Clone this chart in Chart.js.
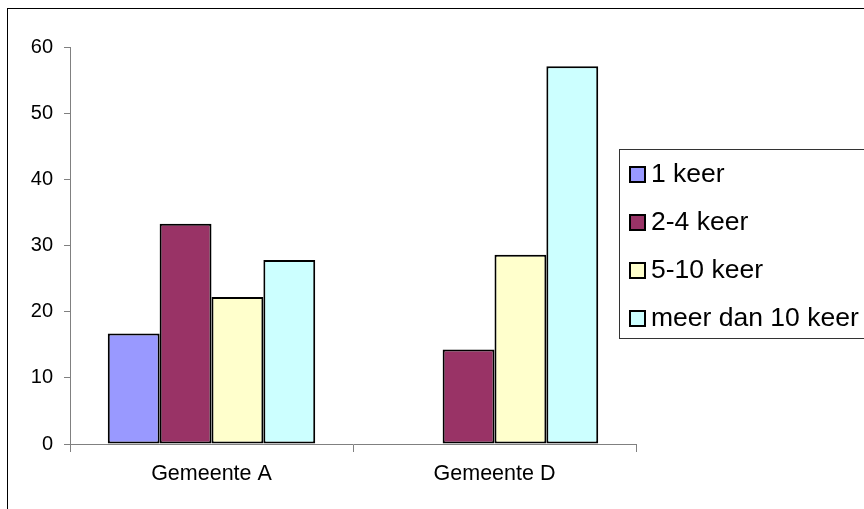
<!DOCTYPE html>
<html>
<head>
<meta charset="utf-8">
<script src="https://cdn.jsdelivr.net/npm/chart.js@4.4.1/dist/chart.umd.min.js"></script>
<style>
  html, body { margin: 0; padding: 0; background: #fff; }
  #wrap { width: 864px; height: 509px; }
</style>
</head>
<body>
<div id="wrap"><canvas id="chart" width="864" height="509"></canvas></div>
<script>
const categories = ['Gemeente A', 'Gemeente D'];
const seriesNames = ['1 keer', '2-4 keer', '5-10 keer', 'meer dan 10 keer'];
const eenKeer = [16.7, 0];
const tweeTotVier = [33.3, 14.3];
const vijfTotTien = [22.2, 28.6];
const meerDanTien = [27.8, 57.1];
const yTicks = [0, 10, 20, 30, 40, 50, 60];

const colors = ['#9999FF', '#993366', '#FFFFCC', '#CCFFFF'];
const fontFamily = "'Liberation Sans', Arial, sans-serif";

// excel-achtige legenda met kader, rechts over de plot heen
const boxLegend = {
    id: 'boxLegend',
    afterDraw(chart) {
        const ctx = chart.ctx;
        ctx.save();
        // buitenrand van de grafiek
        ctx.strokeStyle = '#000';
        ctx.lineWidth = 1;
        ctx.strokeRect(7.5, 8.5, 900, 600);

        ctx.fillStyle = '#fff';
        ctx.fillRect(619, 149, 260, 190);
        ctx.strokeStyle = '#333';
        ctx.strokeRect(619.5, 149.5, 260, 189);

        ctx.font = '26.5px ' + fontFamily;
        ctx.textBaseline = 'middle';
        chart.data.datasets.forEach((ds, i) => {
            const cy = 174 + i * 48;
            ctx.fillStyle = ds.backgroundColor;
            ctx.fillRect(629, cy - 8, 17, 17);
            ctx.strokeStyle = '#000';
            ctx.lineWidth = 2;
            ctx.strokeRect(630, cy - 7, 15, 15);
            ctx.fillStyle = '#000';
            ctx.fillText(ds.label, 651, cy + 1);
        });
        ctx.restore();
    }
};

const seriesValues = [eenKeer, tweeTotVier, vijfTotTien, meerDanTien];

new Chart(document.getElementById('chart').getContext('2d'), {
    type: 'bar',
    data: {
        labels: categories,
        datasets: seriesNames.map((name, i) => ({
            label: name,
            data: seriesValues[i],
            backgroundColor: colors[i],
            borderColor: '#000',
            borderWidth: 2,
            borderSkipped: false,
            categoryPercentage: 0.733,
            barPercentage: 1.0
        }))
    },
    options: {
        responsive: false,
        animation: false,
        layout: { padding: { left: 0, right: 228, top: 47, bottom: 0 } },
        plugins: {
            legend: { display: false },
            tooltip: { enabled: false }
        },
        scales: {
            x: {
                afterFit: s => { s.height = 65; },
                border: { color: '#808080', width: 1 },
                grid: { drawOnChartArea: false, drawTicks: true, tickLength: 8, color: '#808080', offset: true },
                ticks: { color: '#000', font: { family: fontFamily, size: 21.5 }, padding: 9 }
            },
            y: {
                min: 0,
                max: 60,
                afterFit: s => { s.width = 70; },
                afterBuildTicks: s => { s.ticks = yTicks.map(v => ({ value: v })); },
                border: { color: '#808080', width: 1 },
                grid: { drawOnChartArea: false, drawTicks: true, tickLength: 6, color: '#808080' },
                ticks: { color: '#000', font: { family: fontFamily, size: 20 }, padding: 11 }
            }
        }
    },
    plugins: [boxLegend]
});
</script>
</body>
</html>
